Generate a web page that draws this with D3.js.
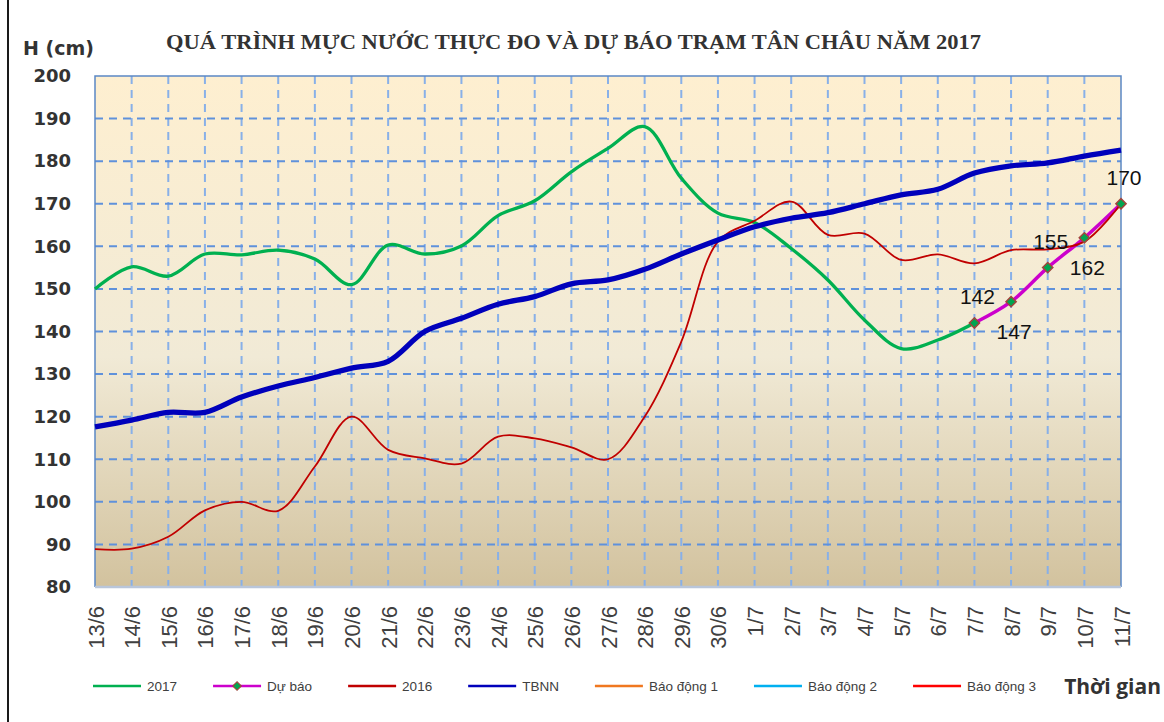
<!DOCTYPE html>
<html>
<head>
<meta charset="utf-8">
<script src="https://cdn.jsdelivr.net/npm/d3@7"></script>
<style>
  html, body { margin: 0; padding: 0; background: #fff; }
</style>
</head>
<body>
<script>
// dates along the x axis
const dates = [
  "13/6", "14/6", "15/6", "16/6", "17/6", "18/6", "19/6", "20/6", "21/6", "22/6",
  "23/6", "24/6", "25/6", "26/6", "27/6", "28/6", "29/6", "30/6",
  "1/7", "2/7", "3/7", "4/7", "5/7", "6/7", "7/7", "8/7", "9/7", "10/7", "11/7"
];

// measured 2017, 13/6 -> 7/7
const h2017 = [
  150, 155.2, 153, 158.2, 158, 159.1, 157, 151, 160.3, 158.2,
  160.1, 167.2, 170.7, 177.5, 183, 188.1, 176, 167.8,
  165.6, 159.5, 152.1, 142.7, 136, 138, 142
];

// forecast, 7/7 -> 11/7
const forecastDates = ["7/7", "8/7", "9/7", "10/7", "11/7"];
const forecast = [142, 147, 155, 162, 170];

const h2016 = [
  88.9, 89, 91.8, 98, 100, 97.9, 108.3, 120, 112.2, 110.2,
  109, 115.3, 114.9, 112.8, 110, 120, 137.6, 161.1,
  166, 170.5, 162.7, 163, 156.8, 158.1, 156, 159.1, 159.3, 161.1, 170
];

const tbnn = [
  117.6, 119.2, 121, 121, 124.6, 127.2, 129.2, 131.4, 133, 140,
  143.1, 146.4, 148.2, 151.2, 152.1, 154.6, 158.2, 161.5,
  164.6, 166.6, 167.9, 170, 172.1, 173.4, 177.2, 178.9, 179.6, 181.2, 182.6
];

const yTicks = [80, 90, 100, 110, 120, 130, 140, 150, 160, 170, 180, 190, 200];

const legendLabels = ["2017", "Dự báo", "2016", "TBNN", "Báo động 1", "Báo động 2", "Báo động 3"];

const width = 1164;
const height = 722;
const margin = { top: 76, right: 43, bottom: 135, left: 95 };
const innerWidth = width - margin.left - margin.right;
const innerHeight = height - margin.top - margin.bottom;

const colors = {
  y2017: "#00B050",
  forecast: "#CC00CC",
  y2016: "#C00000",
  tbnn: "#0000BB",
  bd1: "#F07820",
  bd2: "#00B0F0",
  bd3: "#FF0000",
  marker: "#00A651",
  markerStroke: "#A0453C",
  gridH: "#5F91DB",
  gridV: "#88B0E8",
  frame: "#5B88C5",
  text: "#333333",
};

const sans = "'Liberation Sans', Arial, sans-serif";

const svg = d3.select("body")
  .append("svg")
  .attr("width", width)
  .attr("height", height)
  .attr("viewBox", `0 0 ${width} ${height}`);

svg.append("rect").attr("width", width).attr("height", height).attr("fill", "#fff");

// left edge of the outer frame
svg.append("line")
  .attr("x1", 8).attr("x2", 8).attr("y1", 0).attr("y2", height)
  .attr("stroke", "#1a1a1a").attr("stroke-width", 2);

const defs = svg.append("defs");
const grad = defs.append("linearGradient")
  .attr("id", "plotBg").attr("x1", 0).attr("x2", 0).attr("y1", 0).attr("y2", 1);
grad.append("stop").attr("offset", "0%").attr("stop-color", "#FEEFD0");
grad.append("stop").attr("offset", "55%").attr("stop-color", "#F1EAD6");
grad.append("stop").attr("offset", "100%").attr("stop-color", "#D2C29E");

const x = d3.scalePoint().domain(dates).range([0, innerWidth]);
const y = d3.scaleLinear().domain([80, 200]).range([innerHeight, 0]);

const g = svg.append("g").attr("transform", `translate(${margin.left},${margin.top})`);

g.append("rect")
  .attr("width", innerWidth)
  .attr("height", innerHeight)
  .attr("fill", "url(#plotBg)");

// grid
g.append("g")
  .selectAll("line")
  .data(dates.slice(1, -1))
  .join("line")
  .attr("x1", (d) => x(d)).attr("x2", (d) => x(d))
  .attr("y1", 0).attr("y2", innerHeight)
  .attr("stroke", colors.gridV)
  .attr("stroke-width", 2)
  .attr("stroke-dasharray", "8,6");

g.append("g")
  .selectAll("line")
  .data(yTicks.slice(1, -1))
  .join("line")
  .attr("x1", 0).attr("x2", innerWidth)
  .attr("y1", (d) => y(d)).attr("y2", (d) => y(d))
  .attr("stroke", colors.gridH)
  .attr("stroke-width", 2)
  .attr("stroke-dasharray", "8,6");

// frame
g.append("path")
  .attr("d", `M0,${innerHeight}V0H${innerWidth}V${innerHeight}`)
  .attr("fill", "none")
  .attr("stroke", colors.frame)
  .attr("stroke-width", 1.5);
g.append("line")
  .attr("x1", 0).attr("x2", innerWidth)
  .attr("y1", innerHeight).attr("y2", innerHeight)
  .attr("stroke", "#B9C6DA").attr("stroke-width", 2.5);

// axes
const yAxis = g.append("g")
  .call(d3.axisLeft(y).tickValues(yTicks).tickSize(0).tickPadding(24))
  .call((a) => a.select(".domain").remove());
yAxis.selectAll("text")
  .attr("fill", colors.text)
  .attr("font-family", "'DejaVu Sans', Verdana, sans-serif")
  .attr("font-weight", 700)
  .attr("font-size", 18);

const xAxis = g.append("g")
  .attr("transform", `translate(0,${innerHeight})`)
  .call(d3.axisBottom(x).tickSize(0).tickPadding(0))
  .call((a) => a.select(".domain").remove());
xAxis.selectAll("text")
  .attr("fill", "#404040")
  .attr("font-family", sans)
  .attr("font-size", 22)
  .attr("text-anchor", "end")
  .attr("dy", null)
  .attr("transform", "translate(8,19) rotate(-90)");

// series
const line = d3.line()
  .x((d) => x(d[0]))
  .y((d) => y(d[1]))
  .curve(d3.curveCatmullRom);

const pts2017 = h2017.map((v, i) => [dates[i], v]);
const ptsForecast = forecast.map((v, i) => [forecastDates[i], v]);
const pts2016 = h2016.map((v, i) => [dates[i], v]);
const ptsTbnn = tbnn.map((v, i) => [dates[i], v]);

g.append("path").datum(pts2017).attr("d", line)
  .attr("fill", "none").attr("stroke", colors.y2017).attr("stroke-width", 3.3);
g.append("path").datum(ptsForecast).attr("d", line)
  .attr("fill", "none").attr("stroke", colors.forecast).attr("stroke-width", 3.5);
g.append("path").datum(pts2016).attr("d", line)
  .attr("fill", "none").attr("stroke", colors.y2016).attr("stroke-width", 1.8);
g.append("path").datum(ptsTbnn).attr("d", line)
  .attr("fill", "none").attr("stroke", colors.tbnn).attr("stroke-width", 5.3);

const diamond = d3.symbol().type(d3.symbolSquare).size(52);
g.append("g")
  .selectAll("path")
  .data(ptsForecast)
  .join("path")
  .attr("d", diamond)
  .attr("transform", (d) => `translate(${x(d[0])},${y(d[1])}) rotate(45)`)
  .attr("fill", colors.marker)
  .attr("stroke", colors.markerStroke)
  .attr("stroke-width", 1.5);

g.append("g")
  .selectAll("text")
  .data(ptsForecast)
  .join("text")
  .attr("x", (d) => x(d[0]) + 3)
  .attr("y", (d, i) => y(d[1]) + (i % 2 === 0 ? -19 : 37))
  .attr("text-anchor", "middle")
  .attr("fill", "#111")
  .attr("font-family", sans)
  .attr("font-size", 21)
  .text((d) => d[1]);

// titles
svg.append("text")
  .attr("x", 23).attr("y", 55)
  .attr("fill", colors.text)
  .attr("font-family", "'DejaVu Sans', Verdana, sans-serif")
  .attr("font-weight", 700)
  .attr("font-size", 19)
  .text("H (cm)");

svg.append("text")
  .attr("x", 166).attr("y", 49)
  .attr("fill", colors.text)
  .attr("font-family", "'Liberation Serif', 'Times New Roman', serif")
  .attr("font-weight", 700)
  .attr("font-size", 20)
  .attr("textLength", 815)
  .attr("lengthAdjust", "spacingAndGlyphs")
  .text("QUÁ TRÌNH MỰC NƯỚC THỰC ĐO VÀ DỰ BÁO TRẠM TÂN CHÂU NĂM 2017");

// legend
const legendColors = [colors.y2017, colors.forecast, colors.y2016, colors.tbnn, colors.bd1, colors.bd2, colors.bd3];
const legend = svg.append("g").attr("transform", "translate(93,686)");
let lx = 0;
legendLabels.forEach((label, i) => {
  const item = legend.append("g").attr("transform", `translate(${lx},0)`);
  item.append("line")
    .attr("x1", 0).attr("x2", 48).attr("y1", 0).attr("y2", 0)
    .attr("stroke", legendColors[i]).attr("stroke-width", 2.5);
  if (i === 1) {
    item.append("path")
      .attr("d", d3.symbol().type(d3.symbolSquare).size(36))
      .attr("transform", "translate(24,0) rotate(45)")
      .attr("fill", colors.marker)
      .attr("stroke", colors.markerStroke)
      .attr("stroke-width", 1.2);
  }
  const t = item.append("text")
    .attr("x", 54).attr("y", 5)
    .attr("fill", "#404040")
    .attr("font-family", sans)
    .attr("font-size", 13.5)
    .text(label);
  lx += 54 + t.node().getComputedTextLength() + 36;
});

svg.append("text")
  .attr("x", 1161).attr("y", 694)
  .attr("text-anchor", "end")
  .attr("fill", colors.text)
  .attr("font-family", "'Open Sans', sans-serif")
  .attr("font-weight", 700)
  .attr("font-size", 21)
  .text("Thời gian");
</script>
</body>
</html>
